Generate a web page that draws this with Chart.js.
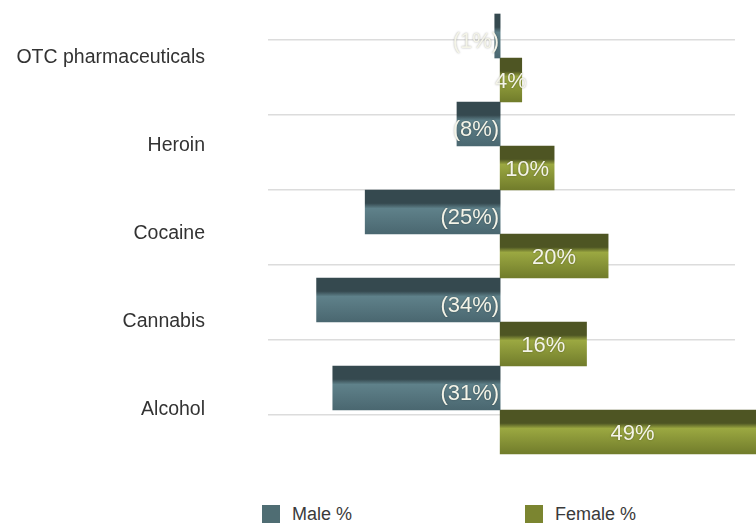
<!DOCTYPE html>
<html>
<head>
<title>Drug use by gender</title>
<style>
  body { margin: 0; background: #fff; }
  #wrap { position: relative; width: 756px; height: 529px; }
  #box { width: 756px; height: 480px; }
  #legend { position: absolute; top: 503px; left: 0; width: 756px; height: 24px;
            font: 18px "Liberation Sans", Arial, sans-serif; color: #3a3a3a; }
  #legend span { position: absolute; top: 0; line-height: 22px; }
  #legend i { display: inline-block; width: 18px; height: 18px; vertical-align: -3px; margin-right: 12px; }
</style>
</head>
<body>
<div id="wrap">
  <div id="box"><canvas id="myChart"></canvas></div>
  <div id="legend"></div>
</div>
<script src="https://cdn.jsdelivr.net/npm/chart.js"></script>
<script>
// dane wykresu
const categories = ['OTC pharmaceuticals', 'Heroin', 'Cocaine', 'Cannabis', 'Alcohol'];
const maleValues = [-1, -8, -25, -34, -31];
const femaleValues = [4, 10, 20, 16, 49];
const seriesNames = ['Male %', 'Female %'];
const gridLines = [0, 1, 2, 3, 4, 5];

// pionowy gradient "3D" dla każdego słupka
function barFill(top, mid, bottom) {
  return function(ctx) {
    const chart = ctx.chart;
    const area = chart.chartArea;
    const y = chart.scales.y;
    if (!area || !y) return mid;
    const band = area.height / categories.length;
    const c = y.getPixelForValue(ctx.dataIndex);
    const y0 = ctx.datasetIndex === 0 ? c - band / 2 : c;
    const g = chart.ctx.createLinearGradient(0, y0, 0, y0 + band / 2);
    g.addColorStop(0, top);
    g.addColorStop(0.3, top);
    g.addColorStop(0.42, mid);
    g.addColorStop(1, bottom);
    return g;
  };
}

// etykiety z wartościami na słupkach
const barLabels = {
  id: 'barLabels',
  afterDatasetsDraw(chart) {
    const c = chart.ctx;
    c.save();
    c.font = '22px "Liberation Sans", Arial, sans-serif';
    c.fillStyle = '#f4f4e8';
    c.textBaseline = 'middle';
    c.shadowColor = 'rgba(0,0,0,0.35)';
    c.shadowBlur = 2;
    chart.data.datasets.forEach(function(ds, i) {
      chart.getDatasetMeta(i).data.forEach(function(bar, j) {
        const v = ds.data[j];
        if (v < 0) {
          c.textAlign = 'right';
          c.fillText('(' + (-v) + '%)', bar.base - 1, bar.y + 6);
        } else {
          c.textAlign = 'center';
          c.fillText(v + '%', (bar.x + bar.base) / 2, bar.y + 2);
        }
      });
    });
    c.restore();
  }
};

const colors = ['#4f6d73', '#7b8530'];

new Chart(document.getElementById('myChart'), {
  type: 'bar',
  data: {
    labels: categories,
    datasets: [{
      label: seriesNames[0],
      data: maleValues,
      backgroundColor: barFill('#35494f', '#5f818a', '#4a6770'),
      clip: false
    }, {
      label: seriesNames[1],
      data: femaleValues,
      backgroundColor: barFill('#4e5523', '#9ba841', '#717c2b'),
      clip: false
    }]
  },
  options: {
    indexAxis: 'y',
    responsive: true,
    maintainAspectRatio: false,
    animation: false,
    barPercentage: 1,
    categoryPercentage: 1,
    layout: { padding: { top: 14, bottom: 26, right: 21, left: 0 } },
    plugins: { legend: { display: false }, tooltip: { enabled: false } },
    scales: {
      x: { display: false, min: -43, max: 43.5 },
      y: {
        position: 'left',
        weight: 2,
        grid: { display: false },
        border: { display: false },
        ticks: { padding: 0, color: '#333', font: { family: '"Liberation Sans", Arial, sans-serif', size: 19.5 } },
        afterFit: function(s) { s.width = 213; }
      },
      // ukryta oś tylko dla poziomych linii siatki (i odstępu od etykiet)
      g: {
        type: 'linear',
        position: 'left',
        weight: 1,
        offset: false,
        bounds: 'data',
        min: -0.52,
        max: 5.3467,
        ticks: { display: false, padding: 0 },
        border: { display: false },
        grid: { offset: false, color: '#dcdcdc', lineWidth: 1.5, drawTicks: false },
        afterBuildTicks: function(s) { s.ticks = gridLines.map(function(v) { return { value: v }; }); },
        afterFit: function(s) { s.width = 55; }
      }
    }
  },
  plugins: [barLabels]
});

// legenda pod wykresem
const legend = document.getElementById('legend');
[262, 525].forEach(function(x, i) {
  const s = document.createElement('span');
  s.style.left = x + 'px';
  s.innerHTML = '<i style="background:' + colors[i] + '"></i>' + seriesNames[i];
  legend.appendChild(s);
});
</script>
</body>
</html>
